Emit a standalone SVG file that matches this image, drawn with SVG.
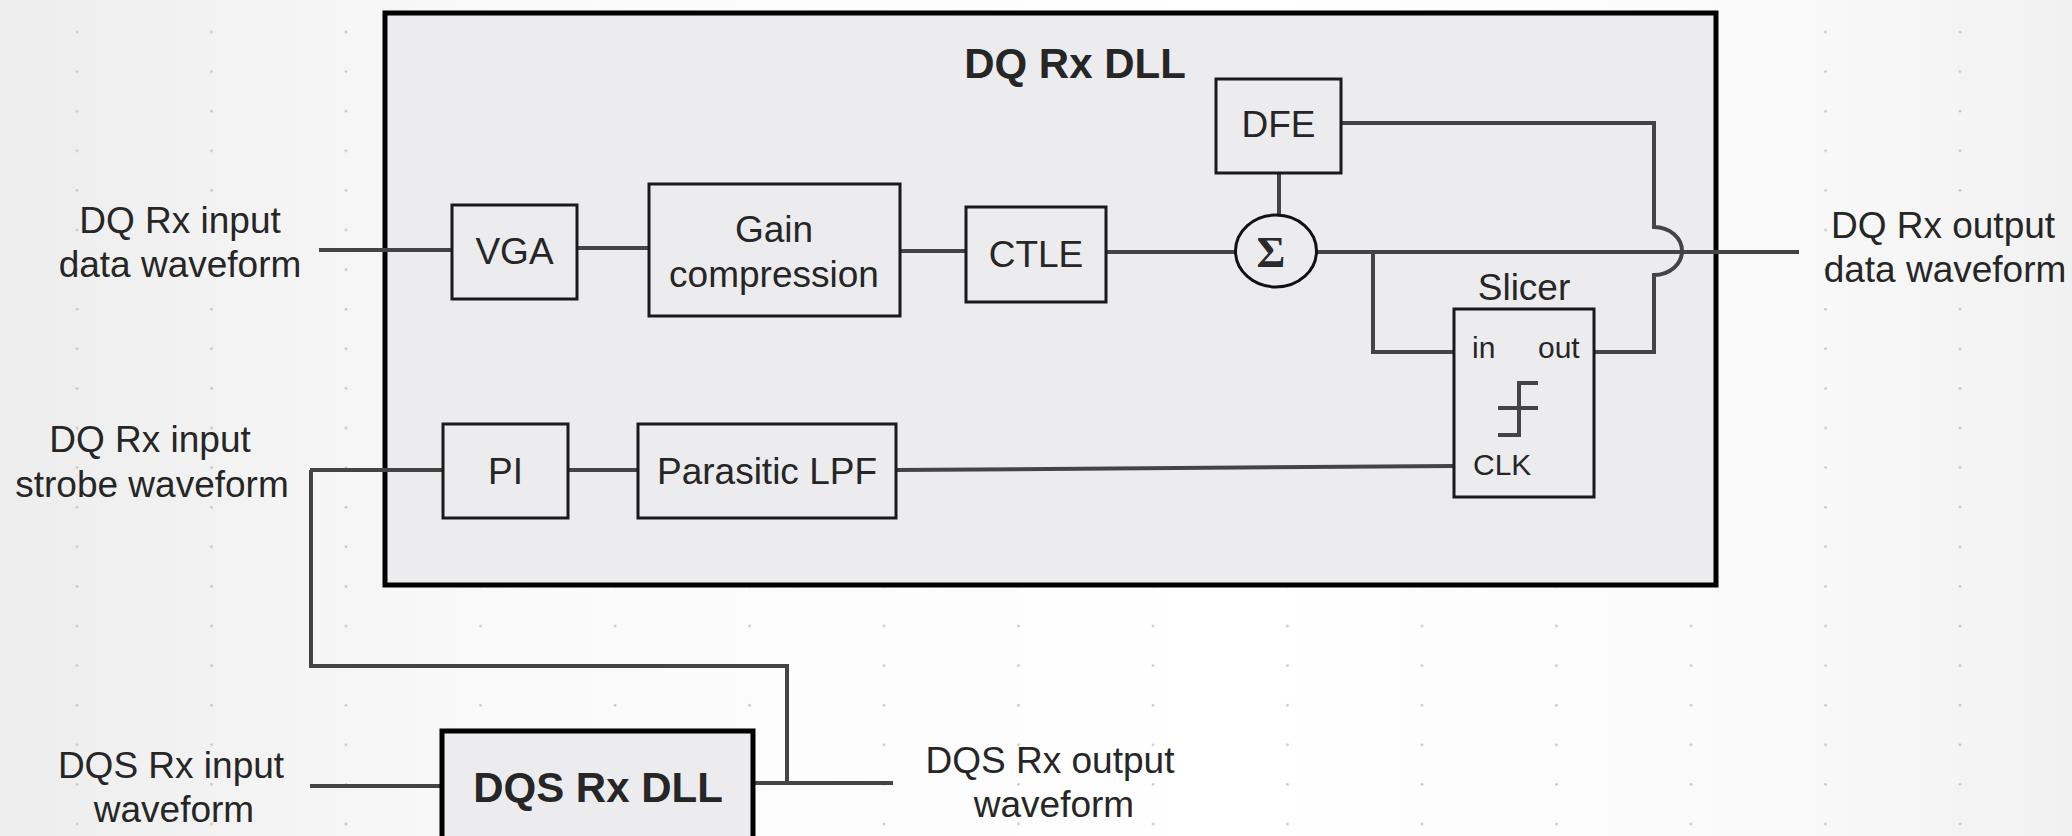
<svg xmlns="http://www.w3.org/2000/svg" width="2072" height="836" viewBox="0 0 2072 836">
<defs>
<linearGradient id="bg" x1="0" y1="0" x2="1" y2="0">
<stop offset="0" stop-color="#ededed"/>
<stop offset="0.25" stop-color="#fafafa"/>
<stop offset="0.6" stop-color="#ffffff"/>
<stop offset="0.85" stop-color="#fafafa"/>
<stop offset="1" stop-color="#f1f1f1"/>
</linearGradient>
<pattern id="dots" x="0" y="0" width="134.5" height="39.6" patternUnits="userSpaceOnUse">
<circle cx="77" cy="32" r="1.3" fill="#c4c4c4"/>
</pattern>
<style>
.box{fill:#ececee;stroke:#1a1a1a;stroke-width:3}
.big{fill:#ececee;stroke:#000;stroke-width:5}
.wire{fill:none;stroke:#444;stroke-width:4;stroke-linejoin:miter}
.t{font-family:"Liberation Sans",Arial,sans-serif;font-size:37px;fill:#262626;text-anchor:middle}
.s{font-family:"Liberation Sans",Arial,sans-serif;font-size:30px;fill:#262626}
.b{font-family:"Liberation Sans",Arial,sans-serif;font-size:42px;font-weight:bold;fill:#262626;text-anchor:middle}
</style>
</defs>
<rect x="0" y="0" width="2072" height="836" fill="url(#bg)"/>
<rect x="0" y="0" width="2072" height="836" fill="url(#dots)"/>

<g id="dq-rx-dll">
<rect class="big" x="385" y="13" width="1331" height="572"/>
<text class="b" x="1075" y="78">DQ Rx DLL</text>
</g>

<g id="labels">
<text class="t" x="180" y="233">DQ Rx input</text>
<text class="t" x="180" y="277">data waveform</text>
<text class="t" x="150" y="452">DQ Rx input</text>
<text class="t" x="152" y="497">strobe waveform</text>
<text class="t" x="171" y="778">DQS Rx input</text>
<text class="t" x="174" y="822">waveform</text>
<text class="t" x="1050" y="773">DQS Rx output</text>
<text class="t" x="1054" y="817">waveform</text>
<text class="t" x="1943" y="238">DQ Rx output</text>
<text class="t" x="1945" y="282">data waveform</text>
</g>

<g id="connectors">
<line class="wire" x1="319" y1="250" x2="452" y2="250"/>
<line class="wire" x1="577" y1="248" x2="649" y2="248"/>
<line class="wire" x1="900" y1="251" x2="966" y2="251"/>
<line class="wire" x1="1106" y1="252" x2="1236" y2="252"/>
<line class="wire" x1="1279" y1="173" x2="1279" y2="215"/>
<line class="wire" x1="1317" y1="252" x2="1799" y2="252"/>
<polyline class="wire" points="1373,252 1373,352 1454,352"/>
<path class="wire" d="M1594,352 H1654 V275 A28,24 0 0 0 1654,227 V123 H1341"/>
<polyline class="wire" points="310,470 443,470"/>
<polyline class="wire" points="311,470 311,666 787,666 787,783"/>
<line class="wire" x1="568" y1="470" x2="638" y2="470"/>
<line class="wire" x1="896" y1="470" x2="1454" y2="466"/>
<line class="wire" x1="310" y1="786" x2="442" y2="786"/>
<line class="wire" x1="753" y1="783" x2="893" y2="783"/>
</g>

<g id="vga">
<rect class="box" x="452" y="205" width="125" height="94"/>
<text class="t" x="514.5" y="264">VGA</text>
</g>
<g id="gain-compression">
<rect class="box" x="649" y="184" width="251" height="132"/>
<text class="t" x="774" y="242">Gain</text>
<text class="t" x="774" y="287">compression</text>
</g>
<g id="ctle">
<rect class="box" x="966" y="207" width="140" height="95"/>
<text class="t" x="1036" y="267">CTLE</text>
</g>
<g id="dfe">
<rect class="box" x="1216" y="79" width="125" height="94"/>
<text class="t" x="1278.5" y="137">DFE</text>
</g>
<g id="sum">
<ellipse cx="1276" cy="251" rx="40.5" ry="36" fill="#ececee" stroke="#111" stroke-width="3"/>
<text x="1271" y="267" style="font-family:'Liberation Serif','Times New Roman',serif;font-size:44px;font-weight:bold;fill:#2a2a2a;text-anchor:middle">Σ</text>
</g>
<g id="slicer">
<text class="t" x="1524" y="300">Slicer</text>
<rect class="box" x="1454" y="309" width="140" height="188"/>
<text class="s" x="1472" y="358">in</text>
<text class="s" x="1538" y="358">out</text>
<text class="s" x="1473" y="475">CLK</text>
<path d="M1538,383 H1519 V435 H1498 M1498,408 H1538" fill="none" stroke="#444" stroke-width="4"/>
</g>
<g id="pi">
<rect class="box" x="443" y="424" width="125" height="94"/>
<text class="t" x="505.5" y="484">PI</text>
</g>
<g id="parasitic-lpf">
<rect class="box" x="638" y="424" width="258" height="94"/>
<text class="t" x="767" y="484">Parasitic LPF</text>
</g>
<g id="dqs-rx-dll">
<rect class="big" x="442" y="731" width="311" height="110"/>
<text class="b" x="598" y="802">DQS Rx DLL</text>
</g>
</svg>
